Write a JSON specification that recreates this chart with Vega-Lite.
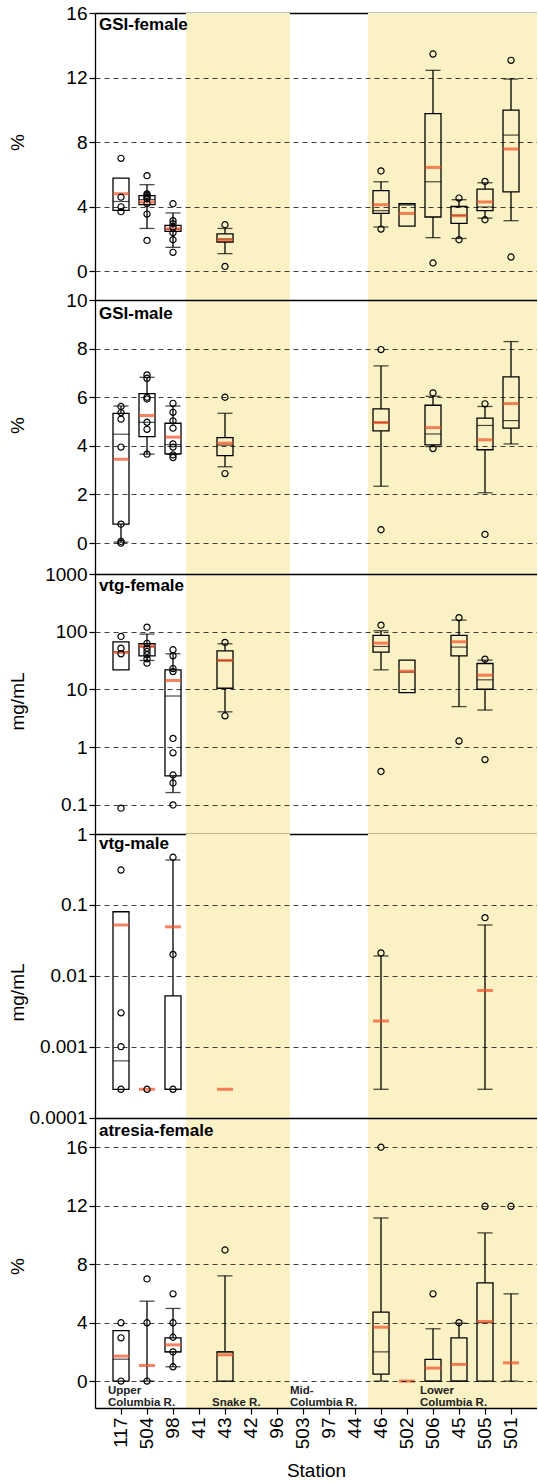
{
  "$schema": "https://vega.github.io/schema/vega-lite/v6.json",
  "padding": {"left": 8, "top": 4, "right": 0, "bottom": 0},
  "spacing": 0,
  "bounds": "flush",
  "config": {
    "font": "Liberation Sans",
    "view": {"stroke": null},
    "axis": {"labelFontSize": 19, "titleFontSize": 19, "titleFontWeight": "normal", "labelColor": "#000", "titleColor": "#000", "domainColor": "#000", "tickColor": "#000", "domainWidth": 1.3, "tickWidth": 1.2, "tickSize": 6, "labelPadding": 2}
  },
  "datasets": {
    "regions": [
      {"region": "Snake R.", "from": "41", "to": "96"},
      {"region": "Lower Columbia R.", "from": "46", "to": "501"}
    ],
    "rlabels": [
      {"label": "Upper\nColumbia R.", "anchor": "117"},
      {"label": "Snake R.", "anchor": "43"},
      {"label": "Mid-\nColumbia R.", "anchor": "503"},
      {"label": "Lower\nColumbia R.", "anchor": "506"}
    ],
    "stats": [
      {"panel":"gf","station":"117","lw":null,"q1":3.78,"med":4.33,"q3":5.78,"uw":null,"mean":4.81},
      {"panel":"gf","station":"504","lw":2.66,"q1":4.13,"med":4.45,"q3":4.69,"uw":5.37,"mean":4.30},
      {"panel":"gf","station":"98","lw":1.49,"q1":2.48,"med":2.6,"q3":2.85,"uw":3.62,"mean":2.64},
      {"panel":"gf","station":"43","lw":1.1,"q1":1.82,"med":2.0,"q3":2.33,"uw":2.66,"mean":1.96},
      {"panel":"gf","station":"46","lw":2.75,"q1":3.59,"med":3.76,"q3":5.0,"uw":5.55,"mean":4.13},
      {"panel":"gf","station":"502","lw":null,"q1":2.81,"med":4.11,"q3":4.19,"uw":null,"mean":3.59},
      {"panel":"gf","station":"506","lw":2.09,"q1":3.37,"med":5.55,"q3":9.77,"uw":12.45,"mean":6.44},
      {"panel":"gf","station":"45","lw":2.04,"q1":2.97,"med":3.48,"q3":4.02,"uw":4.44,"mean":3.45},
      {"panel":"gf","station":"505","lw":3.3,"q1":3.76,"med":3.99,"q3":5.1,"uw":5.49,"mean":4.3},
      {"panel":"gf","station":"501","lw":3.14,"q1":4.93,"med":8.44,"q3":9.99,"uw":11.91,"mean":7.58},

      {"panel":"gm","station":"117","lw":0.04,"q1":0.78,"med":4.48,"q3":5.34,"uw":5.64,"mean":3.45},
      {"panel":"gm","station":"504","lw":3.66,"q1":4.38,"med":4.97,"q3":6.15,"uw":6.82,"mean":5.25},
      {"panel":"gm","station":"98","lw":3.66,"q1":3.67,"med":4.05,"q3":4.93,"uw":5.64,"mean":4.36},
      {"panel":"gm","station":"43","lw":3.14,"q1":3.6,"med":4.03,"q3":4.34,"uw":5.34,"mean":4.11},
      {"panel":"gm","station":"46","lw":2.34,"q1":4.62,"med":4.96,"q3":5.52,"uw":7.29,"mean":4.96},
      {"panel":"gm","station":"506","lw":3.97,"q1":4.04,"med":4.49,"q3":5.67,"uw":6.04,"mean":4.75},
      {"panel":"gm","station":"505","lw":2.07,"q1":3.84,"med":4.84,"q3":5.14,"uw":5.62,"mean":4.25},
      {"panel":"gm","station":"501","lw":4.08,"q1":4.73,"med":5.04,"q3":6.84,"uw":8.29,"mean":5.74},

      {"panel":"vf","station":"117","lw":null,"q1":21.9,"med":45,"q3":67,"uw":null,"mean":43.8},
      {"panel":"vf","station":"504","lw":31.8,"q1":38.3,"med":55,"q3":61.9,"uw":91,"mean":56.4},
      {"panel":"vf","station":"98","lw":0.164,"q1":0.32,"med":7.7,"q3":21.9,"uw":41.5,"mean":14.3},
      {"panel":"vf","station":"43","lw":4.1,"q1":10.5,"med":31.8,"q3":46.8,"uw":61.9,"mean":31.8},
      {"panel":"vf","station":"46","lw":21.9,"q1":44.4,"med":55.6,"q3":86.4,"uw":104,"mean":63.5},
      {"panel":"vf","station":"502","lw":null,"q1":8.8,"med":20,"q3":32.2,"uw":null,"mean":20.7},
      {"panel":"vf","station":"45","lw":5.05,"q1":38.3,"med":54.2,"q3":86.4,"uw":159,"mean":67},
      {"panel":"vf","station":"505","lw":4.4,"q1":10.1,"med":14.7,"q3":28.2,"uw":32.2,"mean":17.7},

      {"panel":"vm","station":"117","lw":null,"q1":0.00025,"med":0.00063,"q3":0.08,"uw":null,"mean":0.052},
      {"panel":"vm","station":"504","lw":null,"q1":null,"med":null,"q3":null,"uw":null,"mean":0.00025},
      {"panel":"vm","station":"98","lw":null,"q1":0.00025,"med":0.00025,"q3":0.0052,"uw":0.43,"mean":0.049},
      {"panel":"vm","station":"43","lw":null,"q1":null,"med":null,"q3":null,"uw":null,"mean":0.00025},
      {"panel":"vm","station":"46","lw":0.00025,"q1":0.00025,"med":null,"q3":0.00025,"uw":0.019,"mean":0.0023},
      {"panel":"vm","station":"505","lw":0.00025,"q1":0.00025,"med":null,"q3":0.00025,"uw":0.052,"mean":0.0062},

      {"panel":"af","station":"117","lw":null,"q1":0,"med":1.5,"q3":3.46,"uw":null,"mean":1.71},
      {"panel":"af","station":"504","lw":0,"q1":0,"med":0,"q3":0,"uw":5.47,"mean":1.07},
      {"panel":"af","station":"98","lw":0.98,"q1":2.0,"med":2.0,"q3":2.96,"uw":4.97,"mean":2.48},
      {"panel":"af","station":"43","lw":null,"q1":0,"med":2.0,"q3":2.0,"uw":7.2,"mean":1.8},
      {"panel":"af","station":"46","lw":0,"q1":0.48,"med":2.0,"q3":4.72,"uw":11.16,"mean":3.69},
      {"panel":"af","station":"502","lw":null,"q1":null,"med":null,"q3":null,"uw":null,"mean":0},
      {"panel":"af","station":"506","lw":null,"q1":0,"med":0,"q3":1.48,"uw":3.58,"mean":0.89},
      {"panel":"af","station":"45","lw":null,"q1":0,"med":0,"q3":2.96,"uw":3.96,"mean":1.14},
      {"panel":"af","station":"505","lw":null,"q1":0,"med":4.0,"q3":6.72,"uw":10.14,"mean":4.08},
      {"panel":"af","station":"501","lw":0,"q1":0,"med":0,"q3":0,"uw":5.97,"mean":1.25}
    ],
    "pts": [
      {"panel":"gf","station":"117","value":7.0},{"panel":"gf","station":"117","value":4.6},{"panel":"gf","station":"117","value":4.0},{"panel":"gf","station":"117","value":3.7},
      {"panel":"gf","station":"504","value":5.93},{"panel":"gf","station":"504","value":4.8},{"panel":"gf","station":"504","value":4.7},{"panel":"gf","station":"504","value":4.6},{"panel":"gf","station":"504","value":4.5},{"panel":"gf","station":"504","value":4.2},{"panel":"gf","station":"504","value":3.55},{"panel":"gf","station":"504","value":1.92},
      {"panel":"gf","station":"98","value":4.19},{"panel":"gf","station":"98","value":3.14},{"panel":"gf","station":"98","value":2.95},{"panel":"gf","station":"98","value":2.75},{"panel":"gf","station":"98","value":2.4},{"panel":"gf","station":"98","value":1.96},{"panel":"gf","station":"98","value":1.18},
      {"panel":"gf","station":"43","value":2.89},{"panel":"gf","station":"43","value":0.31},
      {"panel":"gf","station":"46","value":6.22},{"panel":"gf","station":"46","value":2.62},
      {"panel":"gf","station":"506","value":13.46},{"panel":"gf","station":"506","value":0.52},
      {"panel":"gf","station":"45","value":4.54},{"panel":"gf","station":"45","value":1.96},
      {"panel":"gf","station":"505","value":5.57},{"panel":"gf","station":"505","value":3.2},
      {"panel":"gf","station":"501","value":13.07},{"panel":"gf","station":"501","value":0.89},

      {"panel":"gm","station":"117","value":5.62},{"panel":"gm","station":"117","value":5.37},{"panel":"gm","station":"117","value":5.1},{"panel":"gm","station":"117","value":3.95},{"panel":"gm","station":"117","value":0.78},{"panel":"gm","station":"117","value":0.0},{"panel":"gm","station":"117","value":0.07},
      {"panel":"gm","station":"504","value":6.92},{"panel":"gm","station":"504","value":6.78},{"panel":"gm","station":"504","value":6.0},{"panel":"gm","station":"504","value":5.93},{"panel":"gm","station":"504","value":4.97},{"panel":"gm","station":"504","value":4.68},{"panel":"gm","station":"504","value":3.66},
      {"panel":"gm","station":"98","value":5.75},{"panel":"gm","station":"98","value":5.38},{"panel":"gm","station":"98","value":5.03},{"panel":"gm","station":"98","value":4.73},{"panel":"gm","station":"98","value":4.08},{"panel":"gm","station":"98","value":3.95},{"panel":"gm","station":"98","value":3.63},{"panel":"gm","station":"98","value":3.52},
      {"panel":"gm","station":"43","value":6.0},{"panel":"gm","station":"43","value":2.86},
      {"panel":"gm","station":"46","value":7.96},{"panel":"gm","station":"46","value":0.55},
      {"panel":"gm","station":"506","value":6.18},{"panel":"gm","station":"506","value":3.89},
      {"panel":"gm","station":"505","value":5.73},{"panel":"gm","station":"505","value":0.36},

      {"panel":"vf","station":"117","value":83},{"panel":"vf","station":"117","value":52},{"panel":"vf","station":"117","value":41.5},{"panel":"vf","station":"117","value":0.088},
      {"panel":"vf","station":"504","value":120},{"panel":"vf","station":"504","value":63},{"panel":"vf","station":"504","value":52},{"panel":"vf","station":"504","value":45.5},{"panel":"vf","station":"504","value":40},{"panel":"vf","station":"504","value":34},{"panel":"vf","station":"504","value":28.6},
      {"panel":"vf","station":"98","value":48.7},{"panel":"vf","station":"98","value":38.3},{"panel":"vf","station":"98","value":23},{"panel":"vf","station":"98","value":20.4},{"panel":"vf","station":"98","value":1.42},{"panel":"vf","station":"98","value":0.8},{"panel":"vf","station":"98","value":0.33},{"panel":"vf","station":"98","value":0.24},{"panel":"vf","station":"98","value":0.1},
      {"panel":"vf","station":"43","value":65.3},{"panel":"vf","station":"43","value":3.5},
      {"panel":"vf","station":"46","value":130},{"panel":"vf","station":"46","value":0.38},
      {"panel":"vf","station":"45","value":175},{"panel":"vf","station":"45","value":1.28},
      {"panel":"vf","station":"505","value":33.5},{"panel":"vf","station":"505","value":0.61},

      {"panel":"vm","station":"117","value":0.31},{"panel":"vm","station":"117","value":0.003},{"panel":"vm","station":"117","value":0.001},{"panel":"vm","station":"117","value":0.00025},
      {"panel":"vm","station":"504","value":0.00025},
      {"panel":"vm","station":"98","value":0.47},{"panel":"vm","station":"98","value":0.02},{"panel":"vm","station":"98","value":0.00025},
      {"panel":"vm","station":"46","value":0.021},
      {"panel":"vm","station":"505","value":0.066},

      {"panel":"af","station":"117","value":3.99},{"panel":"af","station":"117","value":2.96},{"panel":"af","station":"117","value":0},
      {"panel":"af","station":"504","value":6.99},{"panel":"af","station":"504","value":3.99},{"panel":"af","station":"504","value":0},
      {"panel":"af","station":"98","value":5.97},{"panel":"af","station":"98","value":3.99},{"panel":"af","station":"98","value":3.0},{"panel":"af","station":"98","value":2.0},{"panel":"af","station":"98","value":0.98},
      {"panel":"af","station":"43","value":8.97},
      {"panel":"af","station":"46","value":16.0},
      {"panel":"af","station":"506","value":5.97},
      {"panel":"af","station":"45","value":4.0},
      {"panel":"af","station":"505","value":11.96},
      {"panel":"af","station":"501","value":11.96}
    ]
  },
  "vconcat": [
    {
      "width": 442, "height": 287,
      "title": {"text": "GSI-female", "anchor": "start", "frame": "group", "orient": "top", "offset": -43, "baseline": "alphabetic", "fontSize": 17, "fontWeight": "bold", "dx": 4, "color": "#000"},
      "resolve": {"axis": {"x": "independent", "y": "independent"}},
      "layer": [
        {"data": {"name": "regions"}, "transform": [{"filter": "datum.region === 'Snake R.'"}], "mark": {"type": "rect", "color": "#FAF2C4"},
         "encoding": {"x": {"field": "from", "type": "nominal", "bandPosition": 0, "scale": {"type": "band", "domain": ["117","504","98","41","43","42","96","503","97","44","46","502","506","45","505","501"], "paddingInner": 0, "paddingOuter": 0.5}, "axis": {"orient": "top", "labels": false, "ticks": false, "title": null, "domain": true, "grid": false, "zindex": 0, "domainWidth": 1.4}}, "x2": {"field": "to", "bandPosition": 1}}},
        {"data": {"name": "regions"}, "transform": [{"filter": "datum.region === 'Lower Columbia R.'"}], "mark": {"type": "rect", "color": "#FAF2C4"},
         "encoding": {"x": {"field": "from", "type": "nominal", "bandPosition": 0, "axis": null}, "x2": {"value": "width"}}},
        {"data": {"name": "stats"}, "transform": [{"filter": "datum.panel === 'gf' && isValid(datum.lw) && isValid(datum.q1)"}], "mark": {"type": "rule", "color": "#000", "strokeWidth": 1.3},
         "encoding": {"x": {"field": "station", "type": "nominal", "axis": null}, "y": {"field": "lw", "type": "quantitative", "scale": {"domain": [-1.77, 16], "nice": false, "zero": false}, "axis": {"title": "%", "values": [0, 4, 8, 12, 16], "grid": true, "gridDash": [5, 4], "gridColor": "#000", "gridOpacity": {"condition": {"test": "datum.value >= 16", "value": 0}, "value": 0.75}, "zindex": 1, "titleX": -68, "titleY": 129}}, "y2": {"field": "q1"}}},
        {"data": {"name": "stats"}, "transform": [{"filter": "datum.panel === 'gf' && isValid(datum.uw) && isValid(datum.q3)"}], "mark": {"type": "rule", "color": "#000", "strokeWidth": 1.3},
         "encoding": {"x": {"field": "station", "type": "nominal", "axis": null}, "y": {"field": "q3", "type": "quantitative", "axis": null}, "y2": {"field": "uw"}}},
        {"data": {"name": "stats"}, "transform": [{"filter": "datum.panel === 'gf' && isValid(datum.lw)"}], "mark": {"type": "tick", "color": "#000", "size": 15, "thickness": 1.3},
         "encoding": {"x": {"field": "station", "type": "nominal", "axis": null}, "y": {"field": "lw", "type": "quantitative", "axis": null}}},
        {"data": {"name": "stats"}, "transform": [{"filter": "datum.panel === 'gf' && isValid(datum.uw)"}], "mark": {"type": "tick", "color": "#000", "size": 15, "thickness": 1.3},
         "encoding": {"x": {"field": "station", "type": "nominal", "axis": null}, "y": {"field": "uw", "type": "quantitative", "axis": null}}},
        {"data": {"name": "stats"}, "transform": [{"filter": "datum.panel === 'gf' && isValid(datum.q1) && isValid(datum.q3)"}], "mark": {"type": "bar", "width": 16, "fillOpacity": 0, "stroke": "#000", "strokeWidth": 1.3},
         "encoding": {"x": {"field": "station", "type": "nominal", "axis": null}, "y": {"field": "q1", "type": "quantitative", "axis": null}, "y2": {"field": "q3"}}},
        {"data": {"name": "stats"}, "transform": [{"filter": "datum.panel === 'gf' && isValid(datum.med)"}], "mark": {"type": "tick", "color": "#000", "size": 16, "thickness": 1.2},
         "encoding": {"x": {"field": "station", "type": "nominal", "axis": null}, "y": {"field": "med", "type": "quantitative", "axis": null}}},
        {"data": {"name": "stats"}, "transform": [{"filter": "datum.panel === 'gf' && isValid(datum.mean)"}], "mark": {"type": "tick", "color": "#F04E23", "size": 16, "thickness": 3},
         "encoding": {"x": {"field": "station", "type": "nominal", "axis": null}, "y": {"field": "mean", "type": "quantitative", "axis": null}}},
        {"data": {"name": "pts"}, "transform": [{"filter": "datum.panel === 'gf'"}], "mark": {"type": "point", "shape": "circle", "filled": false, "color": "#000", "size": 38, "strokeWidth": 1.2, "opacity": 1},
         "encoding": {"x": {"field": "station", "type": "nominal", "axis": null}, "y": {"field": "value", "type": "quantitative", "axis": null}}}
      ]
    },
    {
      "width": 442, "height": 274,
      "title": {"text": "GSI-male", "anchor": "start", "frame": "group", "orient": "top", "offset": -45, "baseline": "alphabetic", "fontSize": 17, "fontWeight": "bold", "dx": 4, "color": "#000"},
      "resolve": {"axis": {"x": "independent", "y": "independent"}},
      "layer": [
        {"data": {"name": "regions"}, "transform": [{"filter": "datum.region === 'Snake R.'"}], "mark": {"type": "rect", "color": "#FAF2C4"},
         "encoding": {"x": {"field": "from", "type": "nominal", "bandPosition": 0, "scale": {"type": "band", "domain": ["117","504","98","41","43","42","96","503","97","44","46","502","506","45","505","501"], "paddingInner": 0, "paddingOuter": 0.5}, "axis": {"orient": "top", "labels": false, "ticks": false, "title": null, "domain": true, "grid": false, "zindex": 1, "domainWidth": 1.4}}, "x2": {"field": "to", "bandPosition": 1}}},
        {"data": {"name": "regions"}, "transform": [{"filter": "datum.region === 'Lower Columbia R.'"}], "mark": {"type": "rect", "color": "#FAF2C4"},
         "encoding": {"x": {"field": "from", "type": "nominal", "bandPosition": 0, "axis": null}, "x2": {"value": "width"}}},
        {"data": {"name": "stats"}, "transform": [{"filter": "datum.panel === 'gm' && isValid(datum.lw) && isValid(datum.q1)"}], "mark": {"type": "rule", "color": "#000", "strokeWidth": 1.3},
         "encoding": {"x": {"field": "station", "type": "nominal", "axis": null}, "y": {"field": "lw", "type": "quantitative", "scale": {"domain": [-1.27, 10], "nice": false, "zero": false}, "axis": {"title": "%", "values": [0, 2, 4, 6, 8, 10], "grid": true, "gridDash": [5, 4], "gridColor": "#000", "gridOpacity": {"condition": {"test": "datum.value >= 10", "value": 0}, "value": 0.75}, "zindex": 1, "titleX": -68, "titleY": 125}}, "y2": {"field": "q1"}}},
        {"data": {"name": "stats"}, "transform": [{"filter": "datum.panel === 'gm' && isValid(datum.uw) && isValid(datum.q3)"}], "mark": {"type": "rule", "color": "#000", "strokeWidth": 1.3},
         "encoding": {"x": {"field": "station", "type": "nominal", "axis": null}, "y": {"field": "q3", "type": "quantitative", "axis": null}, "y2": {"field": "uw"}}},
        {"data": {"name": "stats"}, "transform": [{"filter": "datum.panel === 'gm' && isValid(datum.lw)"}], "mark": {"type": "tick", "color": "#000", "size": 15, "thickness": 1.3},
         "encoding": {"x": {"field": "station", "type": "nominal", "axis": null}, "y": {"field": "lw", "type": "quantitative", "axis": null}}},
        {"data": {"name": "stats"}, "transform": [{"filter": "datum.panel === 'gm' && isValid(datum.uw)"}], "mark": {"type": "tick", "color": "#000", "size": 15, "thickness": 1.3},
         "encoding": {"x": {"field": "station", "type": "nominal", "axis": null}, "y": {"field": "uw", "type": "quantitative", "axis": null}}},
        {"data": {"name": "stats"}, "transform": [{"filter": "datum.panel === 'gm' && isValid(datum.q1) && isValid(datum.q3)"}], "mark": {"type": "bar", "width": 16, "fillOpacity": 0, "stroke": "#000", "strokeWidth": 1.3},
         "encoding": {"x": {"field": "station", "type": "nominal", "axis": null}, "y": {"field": "q1", "type": "quantitative", "axis": null}, "y2": {"field": "q3"}}},
        {"data": {"name": "stats"}, "transform": [{"filter": "datum.panel === 'gm' && isValid(datum.med)"}], "mark": {"type": "tick", "color": "#000", "size": 16, "thickness": 1.2},
         "encoding": {"x": {"field": "station", "type": "nominal", "axis": null}, "y": {"field": "med", "type": "quantitative", "axis": null}}},
        {"data": {"name": "stats"}, "transform": [{"filter": "datum.panel === 'gm' && isValid(datum.mean)"}], "mark": {"type": "tick", "color": "#F04E23", "size": 16, "thickness": 3},
         "encoding": {"x": {"field": "station", "type": "nominal", "axis": null}, "y": {"field": "mean", "type": "quantitative", "axis": null}}},
        {"data": {"name": "pts"}, "transform": [{"filter": "datum.panel === 'gm'"}], "mark": {"type": "point", "shape": "circle", "filled": false, "color": "#000", "size": 38, "strokeWidth": 1.2, "opacity": 1},
         "encoding": {"x": {"field": "station", "type": "nominal", "axis": null}, "y": {"field": "value", "type": "quantitative", "axis": null}}}
      ]
    },
    {
      "width": 442, "height": 260,
      "title": {"text": "vtg-female", "anchor": "start", "frame": "group", "orient": "top", "offset": -42.5, "baseline": "alphabetic", "fontSize": 17, "fontWeight": "bold", "dx": 4, "color": "#000"},
      "resolve": {"axis": {"x": "independent", "y": "independent"}},
      "layer": [
        {"data": {"name": "regions"}, "transform": [{"filter": "datum.region === 'Snake R.'"}], "mark": {"type": "rect", "color": "#FAF2C4"},
         "encoding": {"x": {"field": "from", "type": "nominal", "bandPosition": 0, "scale": {"type": "band", "domain": ["117","504","98","41","43","42","96","503","97","44","46","502","506","45","505","501"], "paddingInner": 0, "paddingOuter": 0.5}, "axis": {"orient": "top", "labels": false, "ticks": false, "title": null, "domain": true, "grid": false, "zindex": 1, "domainWidth": 1.4}}, "x2": {"field": "to", "bandPosition": 1}}},
        {"data": {"name": "regions"}, "transform": [{"filter": "datum.region === 'Lower Columbia R.'"}], "mark": {"type": "rect", "color": "#FAF2C4"},
         "encoding": {"x": {"field": "from", "type": "nominal", "bandPosition": 0, "axis": null}, "x2": {"value": "width"}}},
        {"data": {"name": "stats"}, "transform": [{"filter": "datum.panel === 'vf' && isValid(datum.lw) && isValid(datum.q1)"}], "mark": {"type": "rule", "color": "#000", "strokeWidth": 1.3},
         "encoding": {"x": {"field": "station", "type": "nominal", "axis": null}, "y": {"field": "lw", "type": "quantitative", "scale": {"type": "log", "domain": [0.0314, 1000], "nice": false}, "axis": {"title": "mg/mL", "values": [0.1, 1, 10, 100, 1000], "format": "~g", "grid": true, "gridDash": [5, 4], "gridColor": "#000", "gridOpacity": {"condition": {"test": "datum.value >= 1000", "value": 0}, "value": 0.75}, "zindex": 1, "titleX": -68, "titleY": 127}}, "y2": {"field": "q1"}}},
        {"data": {"name": "stats"}, "transform": [{"filter": "datum.panel === 'vf' && isValid(datum.uw) && isValid(datum.q3)"}], "mark": {"type": "rule", "color": "#000", "strokeWidth": 1.3},
         "encoding": {"x": {"field": "station", "type": "nominal", "axis": null}, "y": {"field": "q3", "type": "quantitative", "axis": null}, "y2": {"field": "uw"}}},
        {"data": {"name": "stats"}, "transform": [{"filter": "datum.panel === 'vf' && isValid(datum.lw)"}], "mark": {"type": "tick", "color": "#000", "size": 15, "thickness": 1.3},
         "encoding": {"x": {"field": "station", "type": "nominal", "axis": null}, "y": {"field": "lw", "type": "quantitative", "axis": null}}},
        {"data": {"name": "stats"}, "transform": [{"filter": "datum.panel === 'vf' && isValid(datum.uw)"}], "mark": {"type": "tick", "color": "#000", "size": 15, "thickness": 1.3},
         "encoding": {"x": {"field": "station", "type": "nominal", "axis": null}, "y": {"field": "uw", "type": "quantitative", "axis": null}}},
        {"data": {"name": "stats"}, "transform": [{"filter": "datum.panel === 'vf' && isValid(datum.q1) && isValid(datum.q3)"}], "mark": {"type": "bar", "width": 16, "fillOpacity": 0, "stroke": "#000", "strokeWidth": 1.3},
         "encoding": {"x": {"field": "station", "type": "nominal", "axis": null}, "y": {"field": "q1", "type": "quantitative", "axis": null}, "y2": {"field": "q3"}}},
        {"data": {"name": "stats"}, "transform": [{"filter": "datum.panel === 'vf' && isValid(datum.med)"}], "mark": {"type": "tick", "color": "#000", "size": 16, "thickness": 1.2},
         "encoding": {"x": {"field": "station", "type": "nominal", "axis": null}, "y": {"field": "med", "type": "quantitative", "axis": null}}},
        {"data": {"name": "stats"}, "transform": [{"filter": "datum.panel === 'vf' && isValid(datum.mean)"}], "mark": {"type": "tick", "color": "#F04E23", "size": 16, "thickness": 3},
         "encoding": {"x": {"field": "station", "type": "nominal", "axis": null}, "y": {"field": "mean", "type": "quantitative", "axis": null}}},
        {"data": {"name": "pts"}, "transform": [{"filter": "datum.panel === 'vf'"}], "mark": {"type": "point", "shape": "circle", "filled": false, "color": "#000", "size": 38, "strokeWidth": 1.2, "opacity": 1},
         "encoding": {"x": {"field": "station", "type": "nominal", "axis": null}, "y": {"field": "value", "type": "quantitative", "axis": null}}}
      ]
    },
    {
      "width": 442, "height": 283.5,
      "title": {"text": "vtg-male", "anchor": "start", "frame": "group", "orient": "top", "offset": -41, "baseline": "alphabetic", "fontSize": 17, "fontWeight": "bold", "dx": 4, "color": "#000"},
      "resolve": {"axis": {"x": "independent", "y": "independent"}},
      "layer": [
        {"data": {"name": "regions"}, "transform": [{"filter": "datum.region === 'Snake R.'"}], "mark": {"type": "rect", "color": "#FAF2C4"},
         "encoding": {"x": {"field": "from", "type": "nominal", "bandPosition": 0, "scale": {"type": "band", "domain": ["117","504","98","41","43","42","96","503","97","44","46","502","506","45","505","501"], "paddingInner": 0, "paddingOuter": 0.5}, "axis": {"orient": "top", "labels": false, "ticks": false, "title": null, "domain": true, "grid": false, "zindex": 0, "domainWidth": 1.4}}, "x2": {"field": "to", "bandPosition": 1}}},
        {"data": {"name": "regions"}, "transform": [{"filter": "datum.region === 'Lower Columbia R.'"}], "mark": {"type": "rect", "color": "#FAF2C4"},
         "encoding": {"x": {"field": "from", "type": "nominal", "bandPosition": 0, "axis": null}, "x2": {"value": "width"}}},
        {"data": {"name": "stats"}, "transform": [{"filter": "datum.panel === 'vm' && isValid(datum.lw) && isValid(datum.q1)"}], "mark": {"type": "rule", "color": "#000", "strokeWidth": 1.3},
         "encoding": {"x": {"field": "station", "type": "nominal", "axis": null}, "y": {"field": "lw", "type": "quantitative", "scale": {"type": "log", "domain": [0.0001, 1], "nice": false}, "axis": {"title": "mg/mL", "values": [0.0001, 0.001, 0.01, 0.1, 1], "format": "~g", "grid": true, "gridDash": [5, 4], "gridColor": "#000", "gridOpacity": {"condition": {"test": "datum.value >= 1", "value": 0}, "value": 0.75}, "zindex": 1, "titleX": -68, "titleY": 158}}, "y2": {"field": "q1"}}},
        {"data": {"name": "stats"}, "transform": [{"filter": "datum.panel === 'vm' && isValid(datum.uw) && isValid(datum.q3)"}], "mark": {"type": "rule", "color": "#000", "strokeWidth": 1.3},
         "encoding": {"x": {"field": "station", "type": "nominal", "axis": null}, "y": {"field": "q3", "type": "quantitative", "axis": null}, "y2": {"field": "uw"}}},
        {"data": {"name": "stats"}, "transform": [{"filter": "datum.panel === 'vm' && isValid(datum.lw)"}], "mark": {"type": "tick", "color": "#000", "size": 15, "thickness": 1.3},
         "encoding": {"x": {"field": "station", "type": "nominal", "axis": null}, "y": {"field": "lw", "type": "quantitative", "axis": null}}},
        {"data": {"name": "stats"}, "transform": [{"filter": "datum.panel === 'vm' && isValid(datum.uw)"}], "mark": {"type": "tick", "color": "#000", "size": 15, "thickness": 1.3},
         "encoding": {"x": {"field": "station", "type": "nominal", "axis": null}, "y": {"field": "uw", "type": "quantitative", "axis": null}}},
        {"data": {"name": "stats"}, "transform": [{"filter": "datum.panel === 'vm' && isValid(datum.q1) && isValid(datum.q3) && datum.q3 > datum.q1"}], "mark": {"type": "bar", "width": 16, "fillOpacity": 0, "stroke": "#000", "strokeWidth": 1.3},
         "encoding": {"x": {"field": "station", "type": "nominal", "axis": null}, "y": {"field": "q1", "type": "quantitative", "axis": null}, "y2": {"field": "q3"}}},
        {"data": {"name": "stats"}, "transform": [{"filter": "datum.panel === 'vm' && isValid(datum.med)"}], "mark": {"type": "tick", "color": "#000", "size": 16, "thickness": 1.2},
         "encoding": {"x": {"field": "station", "type": "nominal", "axis": null}, "y": {"field": "med", "type": "quantitative", "axis": null}}},
        {"data": {"name": "stats"}, "transform": [{"filter": "datum.panel === 'vm' && isValid(datum.mean)"}], "mark": {"type": "tick", "color": "#F04E23", "size": 16, "thickness": 3},
         "encoding": {"x": {"field": "station", "type": "nominal", "axis": null}, "y": {"field": "mean", "type": "quantitative", "axis": null}}},
        {"data": {"name": "pts"}, "transform": [{"filter": "datum.panel === 'vm'"}], "mark": {"type": "point", "shape": "circle", "filled": false, "color": "#000", "size": 38, "strokeWidth": 1.2, "opacity": 1},
         "encoding": {"x": {"field": "station", "type": "nominal", "axis": null}, "y": {"field": "value", "type": "quantitative", "axis": null}}}
      ]
    },
    {
      "width": 442, "height": 290,
      "title": {"text": "atresia-female", "anchor": "start", "frame": "group", "orient": "top", "offset": -34.5, "baseline": "alphabetic", "fontSize": 17, "fontWeight": "bold", "dx": 4, "color": "#000"},
      "resolve": {"axis": {"x": "independent", "y": "independent"}},
      "layer": [
        {"data": {"name": "regions"}, "transform": [{"filter": "datum.region === 'Snake R.'"}], "mark": {"type": "rect", "color": "#FAF2C4"},
         "encoding": {"x": {"field": "from", "type": "nominal", "bandPosition": 0, "scale": {"type": "band", "domain": ["117","504","98","41","43","42","96","503","97","44","46","502","506","45","505","501"], "paddingInner": 0, "paddingOuter": 0.5}, "axis": {"orient": "top", "labels": false, "ticks": false, "title": null, "domain": true, "grid": false, "zindex": 1, "domainWidth": 1.4}}, "x2": {"field": "to", "bandPosition": 1}}},
        {"data": {"name": "regions"}, "transform": [{"filter": "datum.region === 'Lower Columbia R.'"}], "mark": {"type": "rect", "color": "#FAF2C4"},
         "encoding": {"x": {"field": "from", "type": "nominal", "bandPosition": 0, "axis": null}, "x2": {"value": "width"}}},
        {"data": {"name": "stats"}, "transform": [{"filter": "datum.panel === 'af' && isValid(datum.lw) && isValid(datum.q1)"}], "mark": {"type": "rule", "color": "#000", "strokeWidth": 1.3},
         "encoding": {"x": {"field": "station", "type": "nominal", "axis": {"orient": "bottom", "title": "Station", "labelAngle": -90, "labelAlign": "right", "labelBaseline": "middle", "tickSize": 6, "labelPadding": 3, "titlePadding": 13, "domain": true, "grid": false, "zindex": 1, "domainWidth": 1.4}}, "y": {"field": "lw", "type": "quantitative", "scale": {"domain": [-1.84, 18], "nice": false, "zero": false}, "axis": {"title": "%", "values": [0, 4, 8, 12, 16], "grid": true, "gridDash": [5, 4], "gridColor": "#000", "gridOpacity": 0.75, "zindex": 1, "titleX": -68, "titleY": 148}}, "y2": {"field": "q1"}}},
        {"data": {"name": "stats"}, "transform": [{"filter": "datum.panel === 'af' && isValid(datum.uw) && isValid(datum.q3)"}], "mark": {"type": "rule", "color": "#000", "strokeWidth": 1.3},
         "encoding": {"x": {"field": "station", "type": "nominal", "axis": null}, "y": {"field": "q3", "type": "quantitative", "axis": null}, "y2": {"field": "uw"}}},
        {"data": {"name": "stats"}, "transform": [{"filter": "datum.panel === 'af' && isValid(datum.lw)"}], "mark": {"type": "tick", "color": "#000", "size": 15, "thickness": 1.3},
         "encoding": {"x": {"field": "station", "type": "nominal", "axis": null}, "y": {"field": "lw", "type": "quantitative", "axis": null}}},
        {"data": {"name": "stats"}, "transform": [{"filter": "datum.panel === 'af' && isValid(datum.uw)"}], "mark": {"type": "tick", "color": "#000", "size": 15, "thickness": 1.3},
         "encoding": {"x": {"field": "station", "type": "nominal", "axis": null}, "y": {"field": "uw", "type": "quantitative", "axis": null}}},
        {"data": {"name": "stats"}, "transform": [{"filter": "datum.panel === 'af' && isValid(datum.q1) && isValid(datum.q3) && datum.q3 > datum.q1"}], "mark": {"type": "bar", "width": 16, "fillOpacity": 0, "stroke": "#000", "strokeWidth": 1.3},
         "encoding": {"x": {"field": "station", "type": "nominal", "axis": null}, "y": {"field": "q1", "type": "quantitative", "axis": null}, "y2": {"field": "q3"}}},
        {"data": {"name": "stats"}, "transform": [{"filter": "datum.panel === 'af' && isValid(datum.med) && datum.q3 > datum.q1"}], "mark": {"type": "tick", "color": "#000", "size": 16, "thickness": 1.2},
         "encoding": {"x": {"field": "station", "type": "nominal", "axis": null}, "y": {"field": "med", "type": "quantitative", "axis": null}}},
        {"data": {"name": "stats"}, "transform": [{"filter": "datum.panel === 'af' && isValid(datum.mean)"}], "mark": {"type": "tick", "color": "#F04E23", "size": 16, "thickness": 3},
         "encoding": {"x": {"field": "station", "type": "nominal", "axis": null}, "y": {"field": "mean", "type": "quantitative", "axis": null}}},
        {"data": {"name": "pts"}, "transform": [{"filter": "datum.panel === 'af'"}], "mark": {"type": "point", "shape": "circle", "filled": false, "color": "#000", "size": 38, "strokeWidth": 1.2, "opacity": 1},
         "encoding": {"x": {"field": "station", "type": "nominal", "axis": null}, "y": {"field": "value", "type": "quantitative", "axis": null}}},
        {"data": {"name": "rlabels"}, "transform": [{"filter": "indexof(datum.label, 'Columbia') >= 0"}], "mark": {"type": "text", "align": "left", "baseline": "bottom", "dy": -12.5, "fontSize": 11.5, "fontWeight": "bold", "lineBreak": "\n", "lineHeight": 12.5, "color": "#222"},
         "encoding": {"x": {"field": "anchor", "type": "nominal", "bandPosition": 0, "axis": null}, "y": {"value": "height"}, "text": {"field": "label"}}},
        {"data": {"name": "rlabels"}, "transform": [{"filter": "indexof(datum.label, 'Columbia') < 0"}], "mark": {"type": "text", "align": "left", "baseline": "bottom", "fontSize": 11.5, "fontWeight": "bold", "color": "#222"},
         "encoding": {"x": {"field": "anchor", "type": "nominal", "bandPosition": 0, "axis": null}, "y": {"value": "height"}, "text": {"field": "label"}}}
      ]
    }
  ]
}
